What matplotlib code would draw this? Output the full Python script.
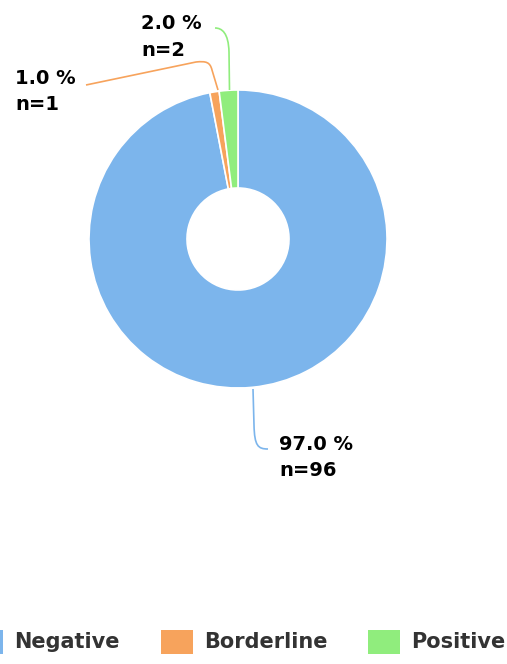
import matplotlib
matplotlib.use("Agg")
import matplotlib.pyplot as plt
from matplotlib.patches import Rectangle, PathPatch
from matplotlib.path import Path

categories = ["Negative", "Borderline", "Positive"]
counts = [96, 1, 2]
colors = ["#7cb5ec", "#f7a35c", "#90ed7d"]
pct_labels = ["97.0 %", "1.0 %", "2.0 %"]
n_labels = ["n=96", "n=1", "n=2"]

W, H = 507, 664
fig = plt.figure(figsize=(W / 100, H / 100), dpi=100)
ax = fig.add_axes([0, 0, 1, 1])
ax.set_xlim(0, W)
ax.set_ylim(0, H)
ax.set_aspect("equal")
ax.axis("off")

def Y(y):
    return H - y

cx, cy, R, r_in = 238, 239, 149, 51
ax.pie(counts, colors=colors, center=(cx, Y(cy)), radius=R, startangle=90,
       counterclock=False, frame=True,
       wedgeprops=dict(width=R - r_in, edgecolor="white", linewidth=1.2))
ax.set_xlim(0, W)
ax.set_ylim(0, H)
ax.axis("off")

# connectors (image pixel coords)
conn = {
    0: [(Path.MOVETO, (253, 389)), (Path.LINETO, (254, 425)),
        (Path.CURVE4, (254.5, 446)), (Path.CURVE4, (258, 449)), (Path.CURVE4, (268, 449))],
    1: [(Path.MOVETO, (218, 90)), (Path.LINETO, (212, 70)),
        (Path.CURVE4, (210, 62)), (Path.CURVE4, (206, 61)), (Path.CURVE4, (196, 62)),
        (Path.LINETO, (86, 85))],
    2: [(Path.MOVETO, (229.5, 90)), (Path.LINETO, (229, 52)),
        (Path.CURVE4, (228.5, 33)), (Path.CURVE4, (222, 28)), (Path.CURVE4, (215, 28))],
}
for i, segs in conn.items():
    codes = [c for c, _ in segs]
    verts = [(x, Y(y)) for _, (x, y) in segs]
    ax.add_patch(PathPatch(Path(verts, codes), facecolor="none",
                           edgecolor=colors[i], linewidth=1.2))

label_pos = {0: (279, 444.5, 471), 1: (15, 78, 105), 2: (141, 23.5, 50)}
for i in range(3):
    x, y1, y2 = label_pos[i]
    ax.text(x, Y(y1), pct_labels[i], fontsize=14, fontweight="bold",
            color="#000000", ha="left", va="center", family="DejaVu Sans")
    ax.text(x, Y(y2), n_labels[i], fontsize=14, fontweight="bold",
            color="#000000", ha="left", va="center", family="DejaVu Sans")

# legend
leg_x = [-29, 161, 368]
for i in range(3):
    ax.add_patch(Rectangle((leg_x[i], Y(654)), 32, 24, facecolor=colors[i],
                           edgecolor="none", clip_on=False))
    ax.text(leg_x[i] + 43, Y(642), categories[i], fontsize=15, fontweight="bold",
            color="#333333", ha="left", va="center", family="DejaVu Sans")

fig.savefig("out.png", dpi=100)
